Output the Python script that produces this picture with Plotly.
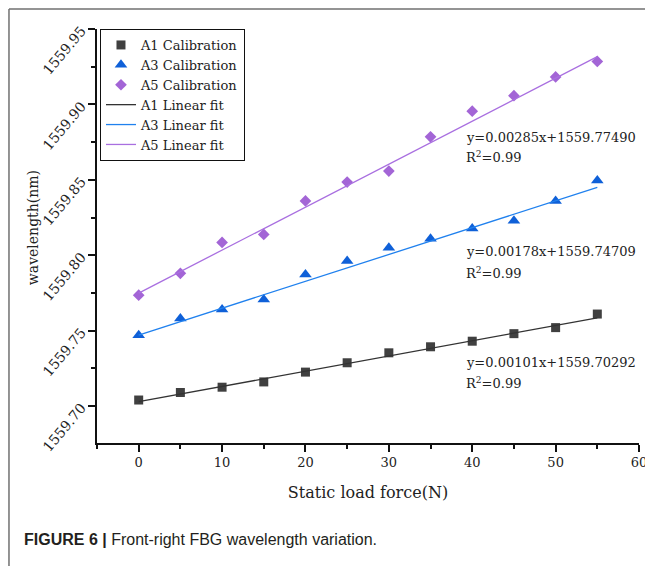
import plotly.graph_objects as go

# ---- data ----
force = [0, 5, 10, 15, 20, 25, 30, 35, 40, 45, 50, 55]
a1_cal = [1559.7040, 1559.7090, 1559.7125, 1559.7160, 1559.7225, 1559.7287,
          1559.7353, 1559.7393, 1559.7430, 1559.7480, 1559.7520, 1559.7610]
a3_cal = [1559.7470, 1559.7580, 1559.7640, 1559.7707, 1559.7873, 1559.7962,
          1559.8050, 1559.8110, 1559.8178, 1559.8229, 1559.8360, 1559.8495]
a5_cal = [1559.7735, 1559.7880, 1559.8085, 1559.8138, 1559.8360, 1559.8485,
          1559.8558, 1559.8785, 1559.8955, 1559.9058, 1559.9182, 1559.9285]

fit_slopes = [0.00101, 0.00178, 0.00285]          # A1, A3, A5
fit_intercepts = [1559.70292, 1559.74709, 1559.77490]
fit_r2 = ["0.99", "0.99", "0.99"]
fit_x = [0, 55]

x_ticks = [0, 10, 20, 30, 40, 50, 60]
y_ticks = [1559.70, 1559.75, 1559.80, 1559.85, 1559.90, 1559.95]

names_cal = ["A1 Calibration", "A3 Calibration", "A5 Calibration"]
names_fit = ["A1 Linear fit", "A3 Linear fit", "A5 Linear fit"]

# ---- styles ----
SERIF = "DejaVu Serif"
marker_colors = ["#404040", "#0f60d8", "#a365d6"]
line_colors = ["#333333", "#2081ee", "#a96fe0"]
symbols = ["square", "triangle-up", "diamond"]
sizes = [9, 11, 9]

fig = go.Figure()
for name, ys, sym, col, sz in zip(names_cal, [a1_cal, a3_cal, a5_cal], symbols, marker_colors, sizes):
    fig.add_trace(go.Scatter(x=force, y=ys, mode="markers", name=name,
                             marker=dict(symbol=sym, color=col, size=sz, line=dict(width=0))))
for name, a, b, col in zip(names_fit, fit_slopes, fit_intercepts, line_colors):
    fig.add_trace(go.Scatter(x=fit_x, y=[a * xv + b for xv in fit_x], mode="lines", name=name,
                             line=dict(color=col, width=1.3)))

# equation annotations (left edge x, centre y of the equation line / R² line)
eq_pos = [(39, 1559.7287, 1559.7154), (39, 1559.8025, 1559.7885), (39, 1559.8782, 1559.8650)]
for (ax, ey, ry), a, b, r2 in zip(eq_pos, fit_slopes, fit_intercepts, fit_r2):
    fig.add_annotation(x=ax, y=ey, xref="x", yref="y", xanchor="left", yanchor="middle",
                       text=f"y={a:.5f}x+{b:.5f}", showarrow=False,
                       font=dict(family=SERIF, size=13, color="#222"))
    fig.add_annotation(x=ax, y=ry, xref="x", yref="y", xanchor="left", yanchor="middle",
                       text=f"R<sup>2</sup>={r2}", showarrow=False,
                       font=dict(family=SERIF, size=13, color="#222"))

# y-axis title (placed as rotated text)
fig.add_annotation(x=-0.118, y=0.519, xref="paper", yref="paper", xanchor="center", yanchor="middle",
                   text="wavelength(nm)", textangle=-90, showarrow=False,
                   font=dict(family=SERIF, size=14, color="#222"))

# caption
fig.add_annotation(x=-0.1384, y=-0.232, xref="paper", yref="paper", xanchor="left", yanchor="middle",
                   text="<b>FIGURE 6 |</b> Front-right FBG wavelength variation.", showarrow=False,
                   font=dict(family="Liberation Sans", size=16, color="#231f20"))

# page frame lines
fig.add_shape(type="line", xref="paper", yref="paper", x0=-0.1624, x1=1.05, y0=1.0483, y1=1.0483,
              line=dict(color="#707070", width=1.5))
fig.add_shape(type="line", xref="paper", yref="paper", x0=-0.1624, x1=-0.1624, y0=1.0483, y1=-0.3,
              line=dict(color="#707070", width=1.5))

fig.update_layout(
    width=645, height=558,
    margin=dict(l=89, r=14, t=21, b=123, autoexpand=False),
    paper_bgcolor="white", plot_bgcolor="white",
    font=dict(family=SERIF, color="#222"),
    showlegend=True,
    legend=dict(x=0.0055, y=1, xanchor="left", yanchor="top",
                bordercolor="#111", borderwidth=1, bgcolor="white",
                font=dict(family=SERIF, size=13, color="#222"),
                tracegroupgap=0, itemwidth=30),
    xaxis=dict(range=[-5, 60], tickvals=x_ticks, showline=True, linecolor="#111", linewidth=1.5,
               automargin=False,
               ticks="outside", ticklen=7, tickwidth=1.5, tickcolor="#111",
               minor=dict(dtick=5, tick0=0, ticks="outside", ticklen=4, tickwidth=1.5, tickcolor="#111"),
               showgrid=False, zeroline=False,
               tickfont=dict(family=SERIF, size=13, color="#222"),
               title=dict(text="Static load force(N)", font=dict(family=SERIF, size=16, color="#222"),
                          standoff=17)),
    yaxis=dict(range=[1559.6755, 1559.95], tickvals=y_ticks, tickformat=".2f",
               showline=True, linecolor="#111", linewidth=1.5, automargin=False,
               ticks="outside", ticklen=7, tickwidth=1.5, tickcolor="#111",
               minor=dict(dtick=0.025, tick0=1559.70, ticks="outside", ticklen=4, tickwidth=1.5, tickcolor="#111"),
               showgrid=False, zeroline=False, tickangle=-50, ticklabelstandoff=4,
               tickfont=dict(family=SERIF, size=14, color="#222")),
)

fig.write_html("out.html")
